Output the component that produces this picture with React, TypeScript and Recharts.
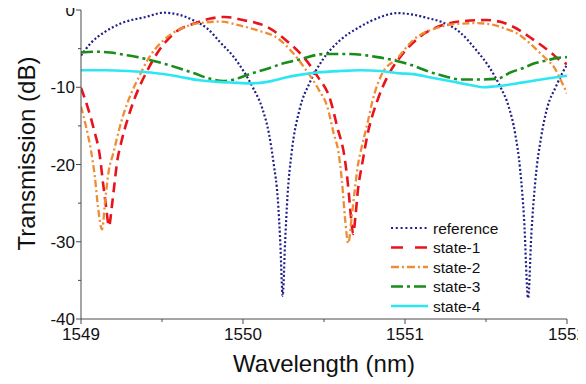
import React from "react";
import { LineChart, Line, XAxis, YAxis, Legend, Label } from "recharts";

const FONT = '"Liberation Sans", Arial, Helvetica, sans-serif';
const AXIS = "#4a4a4a";
const TEXT = "#111";

const xTicks = [1549, 1549.5, 1550, 1550.5, 1551, 1551.5, 1552];
const yTicks = [-40, -35, -30, -25, -20, -15, -10, -5, 0];

// reference (dotted navy)
const refW = [1549.0, 1549.06, 1549.15, 1549.25, 1549.4, 1549.51, 1549.62, 1549.7, 1549.78, 1549.86, 1549.94, 1550.0, 1550.06, 1550.12, 1550.16, 1550.19, 1550.215, 1550.23, 1550.245, 1550.26, 1550.275, 1550.3, 1550.35, 1550.41, 1550.49, 1550.6, 1550.72, 1550.85, 1550.95, 1551.05, 1551.15, 1551.22, 1551.34, 1551.44, 1551.52, 1551.59, 1551.64, 1551.68, 1551.71, 1551.735, 1551.76, 1551.78, 1551.805, 1551.84, 1551.88, 1551.93, 1551.97, 1552.0];
const refT = [-5.9, -4.3, -2.8, -1.7, -0.9, -0.35, -0.7, -1.4, -2.4, -4.2, -6.0, -7.8, -10, -12.8, -16, -20, -24.5, -30, -37, -30, -24, -18.5, -12.8, -9.5, -6.5, -3.9, -2.2, -0.9, -0.4, -0.6, -1.1, -1.5, -2.9, -5.2, -7.4, -10, -12.5, -16, -20.5, -27, -37.3, -29, -22, -16.5, -12.5, -10, -8.2, -7.1];

// state-1 (red dashed)
const s1W = [1549.0, 1549.04, 1549.08, 1549.117, 1549.136, 1549.155, 1549.173, 1549.19, 1549.204, 1549.222, 1549.25, 1549.29, 1549.33, 1549.37, 1549.41, 1549.47, 1549.57, 1549.72, 1549.8, 1549.89, 1550.0, 1550.15, 1550.27, 1550.37, 1550.46, 1550.54, 1550.58, 1550.63, 1550.65, 1550.665, 1550.68, 1550.695, 1550.71, 1550.735, 1550.77, 1550.83, 1550.89, 1550.97, 1551.09, 1551.24, 1551.38, 1551.5, 1551.6, 1551.67, 1551.79, 1551.9, 1551.95, 1552.0];
const s1T = [-10.1, -12.5, -15.5, -19, -22.4, -25.5, -28, -25.5, -23, -19.8, -17, -14, -11.5, -9.5, -7.8, -5.6, -3.1, -1.6, -1.1, -0.9, -1.3, -2.2, -4.0, -6.0, -8.6, -11.7, -15, -19.5, -23, -26.5, -29, -26.5, -23.2, -20, -16, -11.7, -8.7, -6.1, -3.5, -1.9, -1.4, -1.3, -1.6, -2.2, -3.8, -5.5, -6.4, -7.0];

// state-2 (orange dash-dot)
const s2W = [1549.0, 1549.03, 1549.06, 1549.085, 1549.105, 1549.13, 1549.15, 1549.17, 1549.2, 1549.235, 1549.27, 1549.31, 1549.35, 1549.41, 1549.51, 1549.63, 1549.73, 1549.86, 1549.98, 1550.1, 1550.21, 1550.31, 1550.39, 1550.47, 1550.52, 1550.56, 1550.59, 1550.61, 1550.63, 1550.65, 1550.67, 1550.69, 1550.71, 1550.73, 1550.77, 1550.8, 1550.86, 1550.95, 1551.05, 1551.2, 1551.32, 1551.44, 1551.54, 1551.63, 1551.69, 1551.77, 1551.83, 1551.88, 1551.92, 1551.96, 1552.0];
const s2T = [-12.5, -15, -18, -21.5, -25.5, -28.4, -24.5, -21, -18.5, -15.5, -13, -10.8, -9, -6.5, -3.9, -2.3, -1.7, -1.5, -2.0, -2.7, -3.6, -5.6, -7.8, -10.4, -12.5, -16, -18.5, -22, -27, -30.2, -27, -23.3, -20, -18, -14.5, -11.7, -8.2, -6.3, -3.9, -2.3, -1.8, -1.7, -1.9, -2.5, -3.0, -4.3, -5.5, -6.5, -7.4, -9.0, -10.8];

// state-3 (green dash-dot)
const s3W = [1549.0, 1549.1, 1549.18, 1549.27, 1549.35, 1549.43, 1549.52, 1549.6, 1549.7, 1549.78, 1549.88, 1549.96, 1550.04, 1550.15, 1550.25, 1550.35, 1550.5, 1550.66, 1550.83, 1550.95, 1551.05, 1551.15, 1551.25, 1551.34, 1551.45, 1551.57, 1551.65, 1551.73, 1551.8, 1551.88, 1551.94, 1552.0];
const s3T = [-5.5, -5.4, -5.5, -5.8, -6.1, -6.5, -7.0, -7.5, -8.2, -8.8, -9.2, -8.9, -8.3, -7.6, -6.9, -6.4, -5.7, -5.7, -6.1, -6.6, -7.2, -8.0, -8.6, -9.0, -9.0, -8.9, -8.1, -7.5, -6.9, -6.5, -6.2, -6.1];

// state-4 (cyan solid)
const s4W = [1549.0, 1549.15, 1549.29, 1549.43, 1549.6, 1549.73, 1549.85, 1549.94, 1550.04, 1550.15, 1550.25, 1550.35, 1550.46, 1550.6, 1550.72, 1550.85, 1550.97, 1551.05, 1551.15, 1551.3, 1551.4, 1551.48, 1551.55, 1551.63, 1551.72, 1551.81, 1551.9, 1552.0];
const s4T = [-7.8, -7.8, -7.9, -8.1, -8.6, -9.1, -9.3, -9.4, -9.5, -9.3, -8.8, -8.4, -8.1, -7.9, -7.8, -7.9, -8.2, -8.3, -8.7, -9.3, -9.7, -10.0, -9.9, -9.7, -9.4, -9.1, -8.8, -8.5];

const zip = (w: number[], t: number[]) => w.map((x, i) => ({ w: x, t: t[i] }));

const SERIES = [
  { name: "reference", data: zip(refW, refT), color: "#1f1f86", width: 2.2, dash: "2 2.2", legendDash: "2 2.8" },
  { name: "state-1", data: zip(s1W, s1T), color: "#e8141c", width: 2.6, dash: "10 6", legendDash: "12 12" },
  { name: "state-2", data: zip(s2W, s2T), color: "#f08c34", width: 2.3, dash: "7 3 2 3", legendDash: "8 3 2 3" },
  { name: "state-3", data: zip(s3W, s3T), color: "#1a8c1a", width: 2.6, dash: "12 4 3 4", legendDash: "12 4 3 4" },
  { name: "state-4", data: zip(s4W, s4T), color: "#2ee6f2", width: 2.6, dash: undefined, legendDash: undefined },
];

const majorX = (v: number) => Math.abs(v - Math.round(v)) < 1e-6;
const majorY = (v: number) => v % 10 === 0;

function BottomTick({ x, y, payload }: any) {
  const major = majorX(payload.value);
  return (
    <g>
      <line x1={x} x2={x} y1={y} y2={y + (major ? 5 : 3)} stroke={AXIS} />
      {major && (
        <text x={x} y={y + 21} textAnchor="middle" fontSize={17} fontFamily={FONT} fill={TEXT}>
          {payload.value}
        </text>
      )}
    </g>
  );
}

function TopTick({ x, y, payload }: any) {
  const major = majorX(payload.value);
  return <line x1={x} x2={x} y1={y} y2={y + (major ? 5 : 3)} stroke={AXIS} />;
}

function LeftTick({ x, y, payload }: any) {
  const major = majorY(payload.value);
  return (
    <g>
      <line x1={x - (major ? 5 : 3)} x2={x} y1={y} y2={y} stroke={AXIS} />
      {major && (
        <text x={x - 6} y={y} dy="0.36em" textAnchor="end" fontSize={17} fontFamily={FONT} fill={TEXT}>
          {payload.value}
        </text>
      )}
    </g>
  );
}

function RightTick({ x, y, payload }: any) {
  const major = majorY(payload.value);
  return <line x1={x - (major ? 5 : 3)} x2={x} y1={y} y2={y} stroke={AXIS} />;
}

function renderLegend() {
  return (
    <svg width={150} height={105} style={{ display: "block" }}>
      {SERIES.map((s, i) => {
        const cy = 10 + i * 19.5;
        return (
          <g key={s.name}>
            <line x1={0} x2={37} y1={cy} y2={cy} stroke={s.color} strokeWidth={s.width} strokeDasharray={s.legendDash} />
            <text x={42} y={cy} dy="0.36em" fontSize={15.5} fontFamily={FONT} fill={TEXT}>
              {s.name}
            </text>
          </g>
        );
      })}
    </svg>
  );
}

export default function App() {
  return (
    <div style={{ marginLeft: -8, marginTop: -8 }}>
      <LineChart width={586} height={384} margin={{ top: 10, right: 19, bottom: 0, left: 0 }}>
        <XAxis
          dataKey="w"
          type="number"
          domain={[1549, 1552]}
          ticks={xTicks}
          interval={0}
          allowDataOverflow
          height={65}
          tickSize={0}
          tickMargin={0}
          tickLine={false}
          axisLine={{ stroke: AXIS }}
          tick={BottomTick}
        >
          <Label
            content={(p: any) => {
              const vb = p.viewBox;
              return (
                <text x={vb.x + vb.width / 2} y={vb.y + 53} textAnchor="middle" fontSize={24} fontFamily={FONT} fill={TEXT}>
                  Wavelength (nm)
                </text>
              );
            }}
          />
        </XAxis>
        <XAxis
          xAxisId="top"
          orientation="top"
          type="number"
          domain={[1549, 1552]}
          ticks={xTicks}
          interval={0}
          allowDataOverflow
          height={0}
          tickSize={0}
          tickMargin={0}
          tickLine={false}
          axisLine={{ stroke: AXIS }}
          tick={TopTick}
        />
        <YAxis
          type="number"
          domain={[-40, 0]}
          ticks={yTicks}
          interval={0}
          allowDataOverflow
          width={81}
          tickSize={0}
          tickMargin={0}
          tickLine={false}
          axisLine={{ stroke: AXIS }}
          tick={LeftTick}
        >
          <Label
            content={(p: any) => {
              const vb = p.viewBox;
              const cx = vb.x + 35;
              const cy = vb.y + vb.height / 2 - 11;
              return (
                <text x={cx} y={cy} transform={`rotate(-90, ${cx}, ${cy})`} textAnchor="middle" fontSize={24} fontFamily={FONT} fill={TEXT}>
                  Transmission (dB)
                </text>
              );
            }}
          />
        </YAxis>
        <YAxis
          yAxisId="right"
          orientation="right"
          type="number"
          domain={[-40, 0]}
          ticks={yTicks}
          interval={0}
          allowDataOverflow
          width={0}
          tickSize={0}
          tickMargin={0}
          tickLine={false}
          axisLine={{ stroke: AXIS }}
          tick={RightTick}
        />
        <Legend
          layout="vertical"
          align="center"
          verticalAlign="middle"
          content={renderLegend}
          wrapperStyle={{ left: 391, top: 218, width: 150, height: 105 }}
        />
        {SERIES.map((s) => (
          <Line
            key={s.name}
            data={s.data}
            dataKey="t"
            name={s.name}
            type="monotone"
            stroke={s.color}
            strokeWidth={s.width}
            strokeDasharray={s.dash}
            dot={false}
            activeDot={false}
            isAnimationActive={false}
          />
        ))}
      </LineChart>
    </div>
  );
}
